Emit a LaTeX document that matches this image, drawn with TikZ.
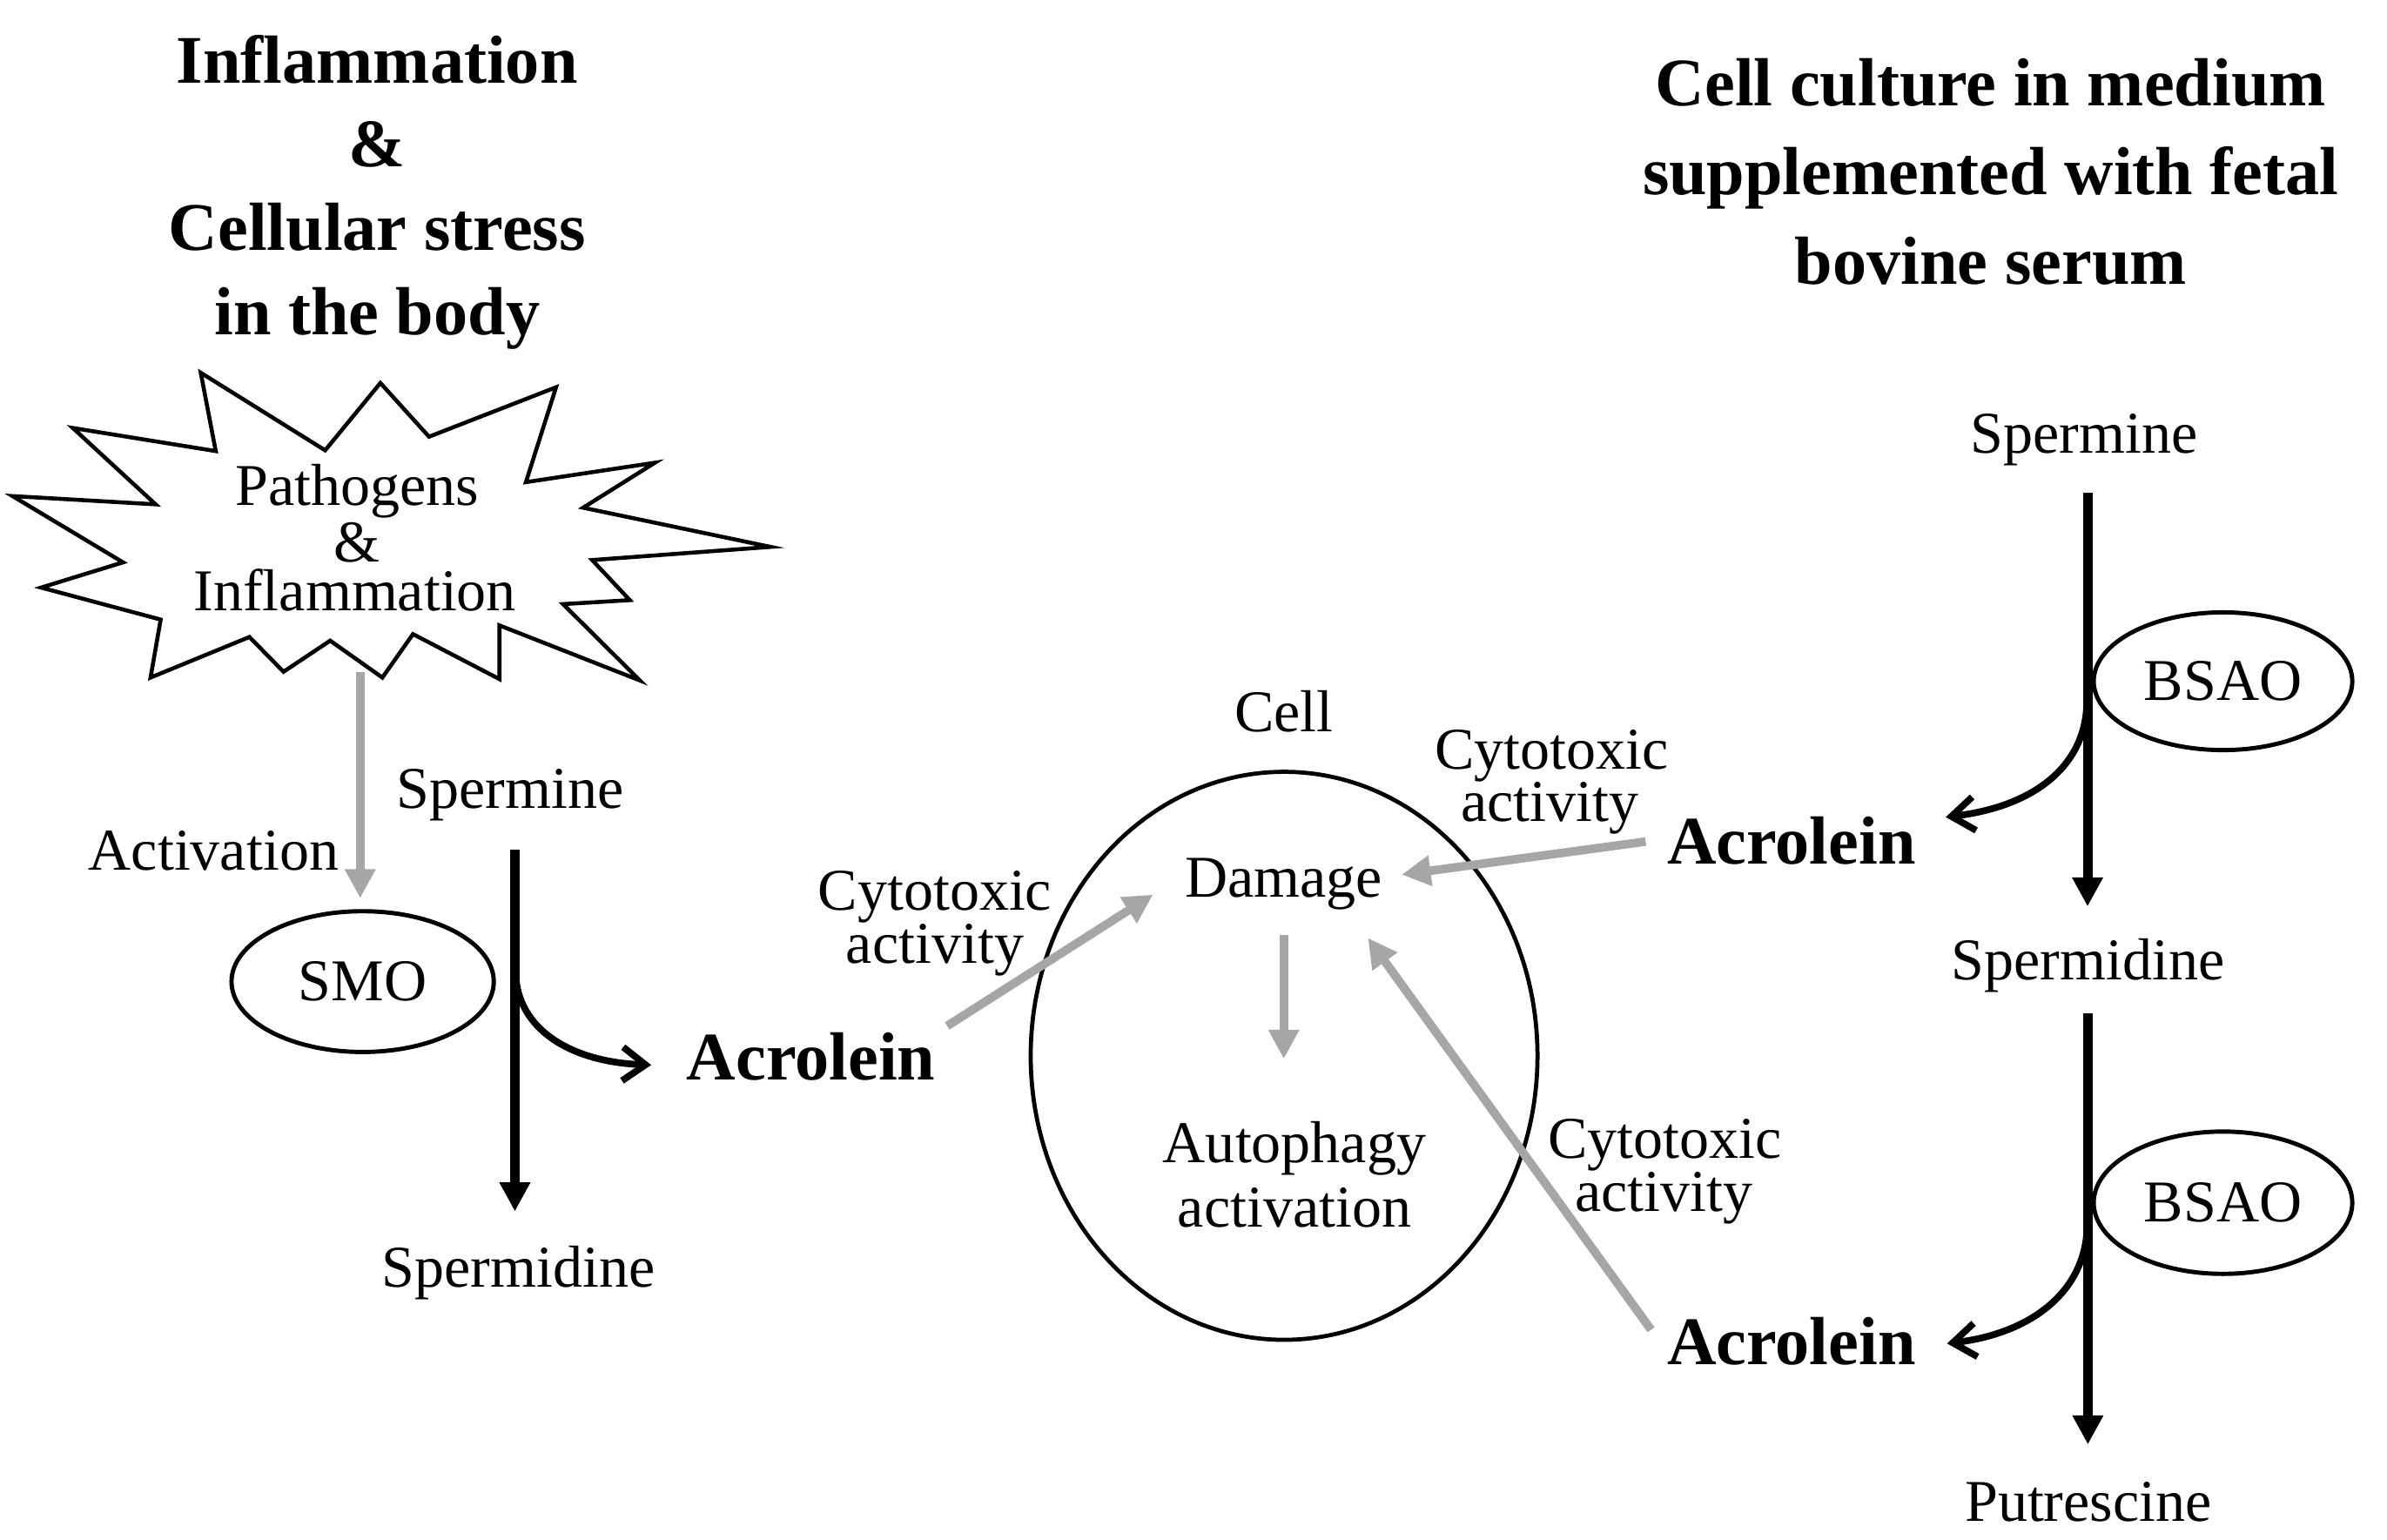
\documentclass[tikz,border=0pt]{standalone}
\usepackage{fontspec}
\setmainfont{Liberation Serif}
\usetikzlibrary{arrows.meta,shapes.geometric}
\definecolor{arrgray}{RGB}{166,166,166}
\tikzset{
  reg/.style={font=\fontsize{38.7}{40}\selectfont, inner sep=0pt, anchor=base},
  bld/.style={font=\fontsize{44.5}{50}\selectfont\bfseries, inner sep=0pt, anchor=base},
  enz/.style={ellipse, draw, line width=2.8pt, inner sep=0pt, font=\fontsize{38.7}{40}\selectfont},
  blackarrow/.style={line width=6.2pt, -{Triangle[length=19pt,width=19pt]}},
  grayarrow/.style={color=arrgray, line width=5.6pt, -{Triangle[length=19pt,width=19pt]}},
  curvearrow/.style={line width=4.4pt, -{Straight Barb[length=15pt,width=22pt]}},
  starline/.style={line width=2.6pt, line join=miter},
}
\begin{document}
\begin{tikzpicture}[x=1pt,y=-1pt]
\useasboundingbox (0,0) rectangle (1560,1006);

% ---- titles ----
\node[bld] (tl1) at (246.5,54.5) {Inflammation};
\node[bld] (tl2) at (246.5,109) {\&};
\node[bld] (tl3) at (246.5,163.5) {Cellular stress};
\node[bld] (tl4) at (246.5,218.5) {in the body};

\node[bld] (tr1) at (1301,69) {Cell culture in medium};
\node[bld] (tr2) at (1301,127) {supplemented with fetal};
\node[bld] (tr3) at (1301,185.8) {bovine serum};

% ---- star ----
\draw[starline] (8.2,324.2) -- (101.7,329.6) -- (47.6,279.7) -- (141.0,294.8)
  -- (131.2,243.6) -- (212.5,294.3) -- (248.6,250.3) -- (280.4,285.4)
  -- (363.4,253.1) -- (343.7,315.1) -- (428.0,302.4) -- (381.1,331.8)
  -- (503.5,357.4) -- (387.0,366.0) -- (411.6,392.2) -- (368.0,394.8)
  -- (418.2,444.7) -- (326.4,408.7) -- (326.4,443.8) -- (269.9,414.4)
  -- (249.9,442.8) -- (215.8,418.7) -- (185.3,439.0) -- (163.0,416.3)
  -- (98.4,442.8) -- (105.0,404.9) -- (26.9,384.0) -- (80.4,367.5) -- cycle;
\node[reg] (st1) at (233.4,330) {Pathogens};
\node[reg] (st2) at (233.4,367) {\&};
\node[reg] (st3) at (232,399.2) {Inflammation};
\coordinate (starbot) at (235.4,439);

% ---- left pathway ----
\node[reg, anchor=base east] (act) at (221.5,568.4) {Activation};
\node[enz, minimum width=171.4pt, minimum height=92pt] (smo) at (237,641.5) {SMO};
\coordinate (smotop) at (235.4,587);
\draw[grayarrow] (starbot) -- (smotop);

\node[reg] (spm1) at (333.4,528.5) {Spermine};
\node[reg] (spd1) at (338.8,841) {Spermidine};
\coordinate (v1a) at (336.5,555.5);
\coordinate (v1b) at (336.5,791.7);
\node[bld] (acr1) at (530,705.9) {Acrolein};
\coordinate (c1s) at (337,636);
\coordinate (c1e) at (425.6,696);
\draw[curvearrow] (c1s) .. controls (338,672) and (372,694) .. (c1e);
\draw[blackarrow] (v1a) -- (v1b);

% ---- cell ----
\node[ellipse, draw, line width=2.7pt, minimum width=331.2pt, minimum height=371.2pt, inner sep=0pt] (cell) at (839.2,690) {};
\node[reg] (celllab) at (839,478.2) {Cell};
\node[reg] (dmg) at (839,586.1) {Damage};
\node[reg] (aut1) at (846,760) {Autophagy};
\node[reg] (aut2) at (846,802) {activation};
\coordinate (dmgb) at (839,611);
\coordinate (autt) at (839,692);
\draw[grayarrow] (dmgb) -- (autt);

\node[reg] (cyl1) at (611,594.8) {Cytotoxic};
\node[reg] (cyl2) at (611,629.6) {activity};
\node[reg] (cyt1) at (1014,502.6) {Cytotoxic};
\node[reg] (cyt2) at (1012.7,536.8) {activity};
\node[reg] (cyb1) at (1088,757) {Cytotoxic};
\node[reg] (cyb2) at (1087.5,791.8) {activity};

\coordinate (g2a) at (619,670.5);
\coordinate (g2b) at (753.5,584.7);
\draw[grayarrow] (g2a) -- (g2b);
\coordinate (g3a) at (1075.5,550);
\coordinate (g3b) at (916,571.6);
\draw[grayarrow] (g3a) -- (g3b);
\coordinate (g4a) at (1079,869);
\coordinate (g4b) at (894,613);
\draw[grayarrow] (g4a) -- (g4b);

% ---- right pathway ----
\node[bld] (acr2) at (1170.8,564.8) {Acrolein};
\node[bld] (acr3) at (1170.8,892) {Acrolein};
\node[reg] (spm2) at (1362,296) {Spermine};
\node[reg] (spd2) at (1364.6,640.3) {Spermidine};
\node[reg] (put) at (1364.8,994) {Putrescine};
\node[enz, minimum width=169pt, minimum height=90pt] (bsao1) at (1452.8,445.2) {BSAO};
\node[enz, minimum width=169pt, minimum height=93pt] (bsao2) at (1452.8,786) {BSAO};

\coordinate (c2s) at (1363.8,458);
\coordinate (c2e) at (1271.6,534);
\draw[curvearrow] (c2s) .. controls (1363.8,500) and (1330,527) .. (c2e);
\coordinate (c3s) at (1364,800);
\coordinate (c3e) at (1272.5,878);
\draw[curvearrow] (c3s) .. controls (1364,842) and (1330,871) .. (c3e);

\coordinate (v2a) at (1364.3,322);
\coordinate (v2b) at (1364.3,592.4);
\draw[blackarrow] (v2a) -- (v2b);
\coordinate (v3a) at (1364.5,662);
\coordinate (v3b) at (1364.5,944);
\draw[blackarrow] (v3a) -- (v3b);
\end{tikzpicture}
\end{document}
